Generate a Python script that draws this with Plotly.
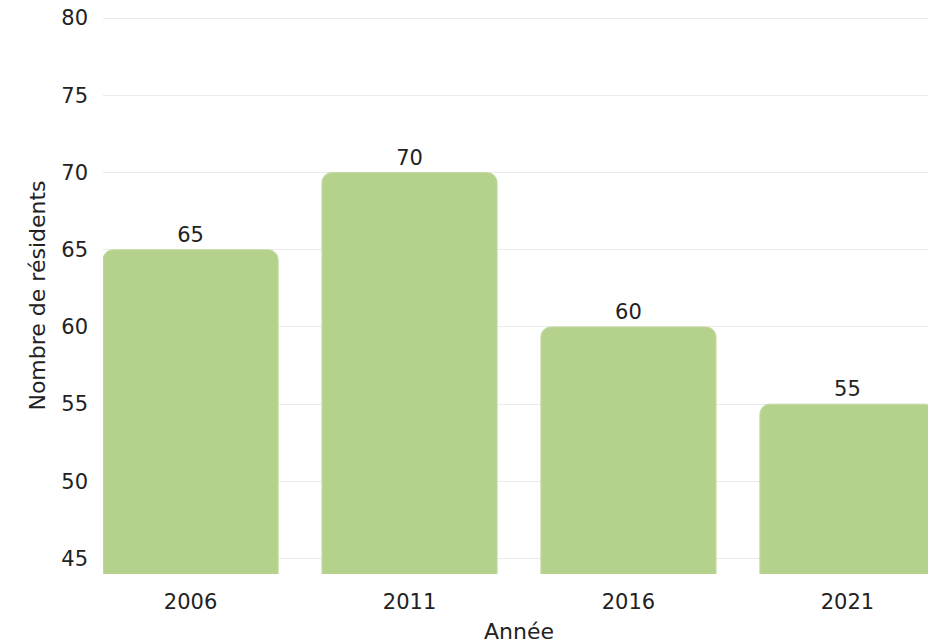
import plotly.graph_objects as go

years = ["2006", "2011", "2016", "2021"]
residents = [65, 70, 60, 55]

fig = go.Figure(go.Bar(
    x=years, y=residents,
    text=[str(v) for v in residents], textposition="outside",
    textfont=dict(size=21, color="#222"),
    marker=dict(color="#b5d28c", line=dict(width=1, color="#c4dba4")),
    cliponaxis=False,
))
fig.update_layout(
    width=928, height=636,
    margin=dict(l=95, r=1, t=9, b=70),
    plot_bgcolor="white", paper_bgcolor="white",
    font=dict(family="DejaVu Sans", size=21, color="#222"),
    bargap=0.2, barcornerradius=10,
    showlegend=False,
    xaxis=dict(title=dict(text="Année", standoff=12, font=dict(size=22)), range=[-0.4, 3.4],
               showgrid=False, ticks="", showline=False, ticklabelstandoff=13),
    yaxis=dict(title=dict(text="Nombre de résidents", standoff=9, font=dict(size=22)),
               range=[44, 80.07], tickvals=[45, 50, 55, 60, 65, 70, 75, 80], ticklabelstandoff=14,
               ticklabeloverflow="allow", automargin="left",
               gridcolor="#ebebeb", showline=False, zeroline=False, ticks=""),
)
fig.write_html("out.html")
